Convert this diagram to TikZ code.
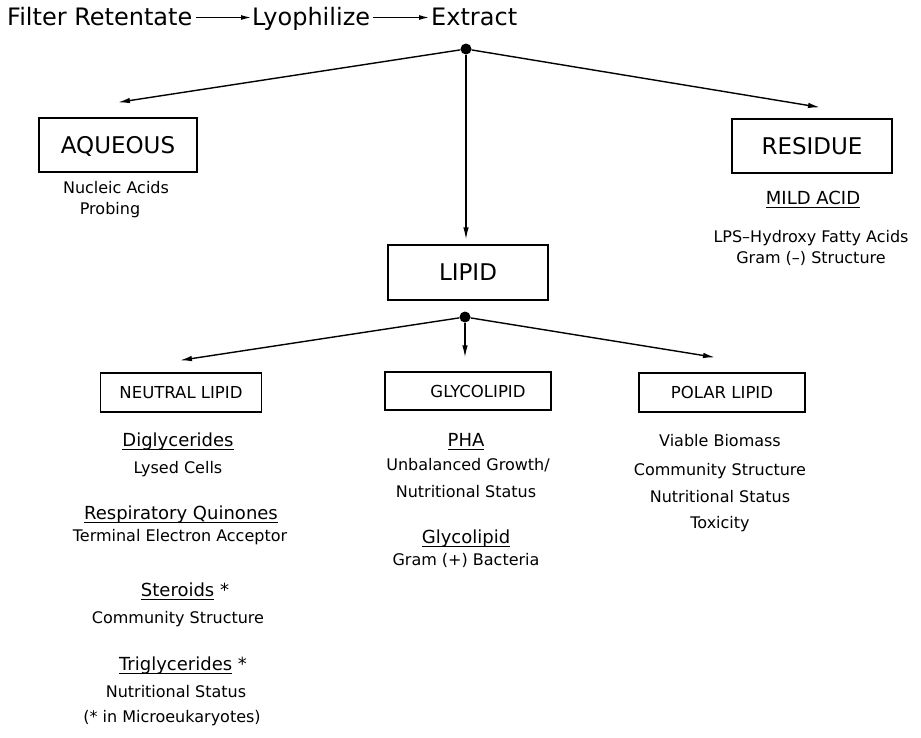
\documentclass[tikz,border=0pt]{standalone}
\usepackage{fontspec}
\setmainfont{DejaVu Sans}
\usetikzlibrary{arrows.meta,calc}
\newcommand\ulx[1]{\setbox0=\hbox{#1}\rlap{\rule[-4pt]{\wd0}{0.9pt}}\box0\relax}
\tikzset{
  ttl/.style={inner sep=0pt,anchor=base west,font=\fontsize{24}{28}\selectfont},
  bigbox/.style={draw,line width=1.3pt,inner sep=0pt,text height=16.8pt,text depth=0pt,font=\fontsize{23}{27}\selectfont},
  smallbox/.style={draw,line width=1.3pt,inner sep=0pt,text height=12pt,text depth=0pt,font=\fontsize{16.5}{20}\selectfont},
  hdr/.style={inner sep=0pt,anchor=base,font=\fontsize{18}{22}\selectfont},
  txt/.style={inner sep=0pt,anchor=base,font=\fontsize{16}{19}\selectfont},
  dot/.style={circle,fill,inner sep=0pt,minimum size=11pt},
  arr/.style={line width=1.4pt,-{Latex[length=12pt,width=5.5pt]}},
  tarr/.style={line width=1.2pt,-{Latex[length=10pt,width=5pt]}}
}
\begin{document}
\begin{tikzpicture}[x=1pt,y=-1pt]
\useasboundingbox[fill=white] (0,0) rectangle (921,737);
% title
\node[ttl] (filt) at (7,25) {Filter Retentate};
\node[ttl] (lyo) at (252,25) {Lyophilize};
\node[ttl] (ext) at (431,25) {Extract};
\draw[tarr] ($(filt.base east)+(3,-7.5)$) -- ($(lyo.base west)+(-1,-7.5)$);
\draw[tarr] ($(lyo.base east)+(3,-7.5)$) -- ($(ext.base west)+(-2,-7.5)$);
% first level
\node[dot] (d1) at (466,49) {};
\node[bigbox,minimum width=158pt,minimum height=54pt] (aq) at (118,145) {AQUEOUS};
\node[bigbox,minimum width=160pt,minimum height=54pt] (res) at (812,146) {RESIDUE};
\node[bigbox,minimum width=160pt,minimum height=55pt] (lip) at (468,272.5) {LIPID};
\coordinate (aqt) at ($(aq.north)+(0,-15)$);
\coordinate (rest) at ($(res.north)+(8,-11)$);
\coordinate (lipt) at ($(lip.north)+(-2,-5)$);
\draw[arr] (d1) -- (aqt);
\draw[arr] (d1) -- (rest);
\draw[arr] (d1) -- (lipt);
% aqueous texts
\node[txt] (aq1) at (116,193) {Nucleic Acids};
\node[txt] (aq2) at (110,214) {Probing};
% residue texts
\node[hdr] (res1) at (813,204) {\ulx{MILD ACID}};
\node[txt] (res2) at (811,242) {LPS--Hydroxy Fatty Acids};
\node[txt] (res3) at (811,263) {Gram (--) Structure};
% second level
\node[dot] (d2) at (465,317) {};
\node[smallbox,minimum width=161pt,minimum height=39pt] (neu) at (181,392.5) {NEUTRAL LIPID};
\node[smallbox,minimum width=166pt,minimum height=38pt] (gly) at (468,391) {\hspace*{20pt}GLYCOLIPID};
\node[smallbox,minimum width=166pt,minimum height=39pt] (pol) at (722,392.5) {POLAR LIPID};
\coordinate (neut) at ($(neu.north)+(-1,-12)$);
\coordinate (glyt) at ($(gly.north)+(-3,-14)$);
\coordinate (polt) at ($(pol.north)+(-7,-15)$);
\draw[arr] (d2) -- (neut);
\draw[arr] (d2) -- (glyt);
\draw[arr] (d2) -- (polt);
% neutral lipid texts
\node[hdr] (n1) at (178,446) {\ulx{Diglycerides}};
\node[txt] (n2) at (178,473) {Lysed Cells};
\node[hdr] (n3) at (181,519) {\ulx{Respiratory Quinones}};
\node[txt] (n4) at (180,541) {Terminal Electron Acceptor};
\node[hdr] (n5) at (185,596) {\ulx{Steroids} *};
\node[txt] (n6) at (178,623) {Community Structure};
\node[hdr] (n7) at (183,670) {\ulx{Triglycerides} *};
\node[txt] (n8) at (176,697) {Nutritional Status};
\node[txt] (n9) at (172,722) {(* in Microeukaryotes)};
% glycolipid texts
\node[hdr] (g1) at (466,446) {\ulx{PHA}};
\node[txt] (g2) at (468,470) {Unbalanced Growth/};
\node[txt] (g3) at (466,497) {Nutritional Status};
\node[hdr] (g4) at (466,543) {\ulx{Glycolipid}};
\node[txt] (g5) at (466,565) {Gram (+) Bacteria};
% polar lipid texts
\node[txt] (p1) at (720,446) {Viable Biomass};
\node[txt] (p2) at (720,475) {Community Structure};
\node[txt] (p3) at (720,502) {Nutritional Status};
\node[txt] (p4) at (720,528) {Toxicity};
\end{tikzpicture}
\end{document}
